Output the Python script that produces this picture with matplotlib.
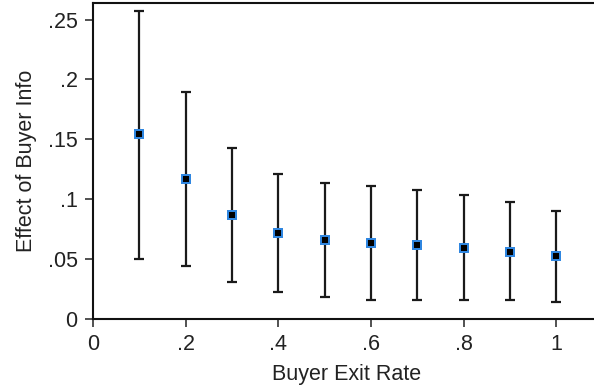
import matplotlib
matplotlib.use("Agg")
import matplotlib.pyplot as plt
import numpy as np

plt.rcParams['font.family'] = ['Liberation Sans', 'DejaVu Sans']

exit_rate = [0.1, 0.2, 0.3, 0.4, 0.5, 0.6, 0.7, 0.8, 0.9, 1.0]
effect = [0.1544, 0.1169, 0.0868, 0.0715, 0.0657, 0.0634, 0.0615, 0.0593, 0.0562, 0.0523]
ci_upper = [0.2575, 0.1895, 0.1425, 0.1210, 0.1138, 0.1110, 0.1077, 0.1032, 0.0974, 0.0904]
ci_lower = [0.0498, 0.0442, 0.0312, 0.0225, 0.0181, 0.0161, 0.0159, 0.0159, 0.0156, 0.0145]

x_ticks = [0, 0.2, 0.4, 0.6, 0.8, 1.0]
x_ticklabels = ['0', '.2', '.4', '.6', '.8', '1']
y_ticks = [0, 0.05, 0.1, 0.15, 0.2, 0.25]
y_ticklabels = ['0', '.05', '.1', '.15', '.2', '.25']

fig = plt.figure(figsize=(5.94, 3.90), dpi=100)
ax = fig.add_axes([0.1566, 0.182, 0.853, 0.811])

eff = np.array(effect)
yerr = [eff - np.array(ci_lower), np.array(ci_upper) - eff]
ax.errorbar(exit_rate, effect, yerr=yerr, fmt='none', ecolor='#1a1a1a',
            elinewidth=1.6, capsize=3.6, capthick=1.6, zorder=2)
ax.scatter(exit_rate, effect, marker='s', s=50, color='#2f86e0', zorder=3,
           linewidths=0)
ax.scatter(exit_rate, effect, marker='s', s=18, color='black', zorder=4,
           linewidths=0)

ax.set_xlim(0, 1.094)
ax.set_ylim(0, 0.264)
ax.set_xticks(x_ticks)
ax.set_xticklabels(x_ticklabels)
ax.set_yticks(y_ticks)
ax.set_yticklabels(y_ticklabels)
ax.tick_params(axis='both', direction='out', length=6, width=1.1,
               labelsize=15.5, colors='#222222', pad=5)
for side in ['left', 'bottom', 'top', 'right']:
    ax.spines[side].set_linewidth(1.5)
    ax.spines[side].set_color('#111111')

ax.set_xlabel('Buyer Exit Rate', fontsize=15.5, color='#222222', labelpad=6)
ax.set_ylabel('Effect of Buyer Info', fontsize=15.5, color='#222222', labelpad=8)

fig.savefig('out.png', dpi=100)
